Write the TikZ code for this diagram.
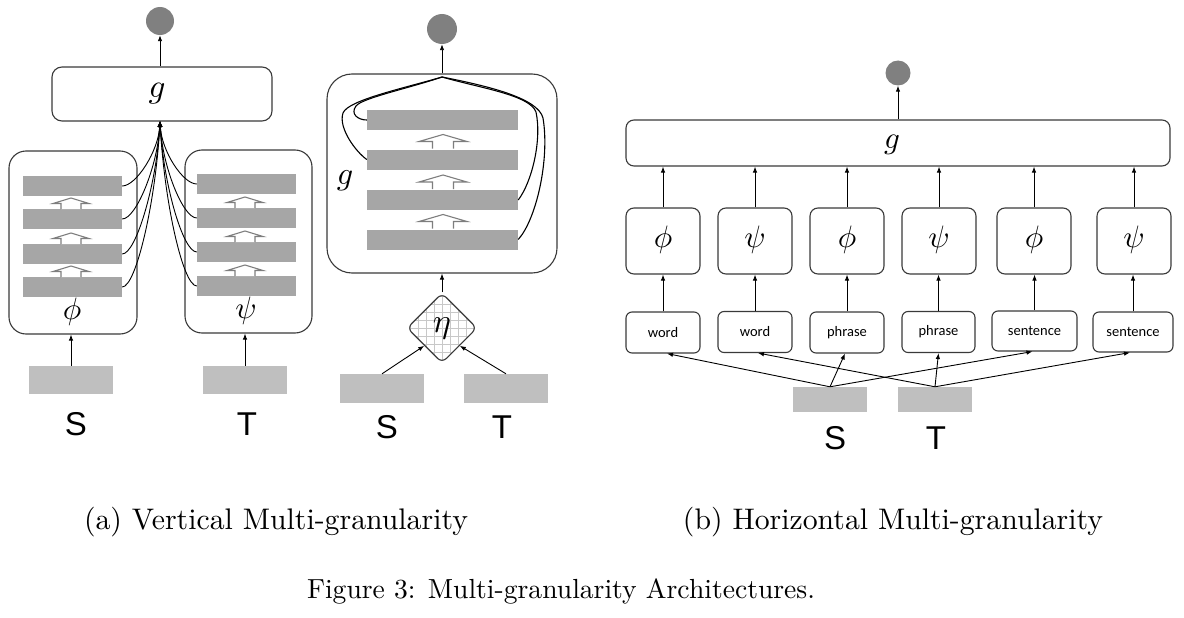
\documentclass[tikz,border=0pt]{standalone}
\usepackage{graphicx}
\usepackage{fontspec}
\newfontfamily\labelsans{Liberation Sans}
\newfontfamily\tagsans{Carlito}
\usetikzlibrary{arrows.meta,shapes.geometric}

\definecolor{bargray}{HTML}{A6A6A6}
\definecolor{ingray}{HTML}{BFBFBF}
\definecolor{dotgray}{HTML}{808080}
\definecolor{edgegray}{HTML}{3A3A3A}
\definecolor{hollowgray}{HTML}{7E7E7E}
\definecolor{hatchgray}{HTML}{C8C8C8}

% math symbol set at 10pt and scaled up
\newcommand{\bigsym}[2]{\scalebox{#1}{$#2$}}

% hollow block arrow: centre x, bottom y, head width, shaft width, height
\newcommand{\hollowup}[5]{%
  \draw[draw=hollowgray, fill=white, line width=1.1pt, line join=miter]
    ({#1-#4/2},#2) -- ({#1-#4/2},{#2-#5*0.5}) -- ({#1-#3/2},{#2-#5*0.5})
    -- (#1,{#2-#5}) -- ({#1+#3/2},{#2-#5*0.5}) -- ({#1+#4/2},{#2-#5*0.5})
    -- ({#1+#4/2},#2);}

\begin{document}
\begin{tikzpicture}[x=1pt,y=-1pt,
  >={Latex[length=6pt,width=4.5pt]},
  box/.style={draw=edgegray, line width=1.1pt, rounded corners=#1, fill=white, inner sep=0pt},
  box/.default=8pt,
  bar/.style={fill=bargray, draw=none, minimum width=#1, minimum height=20pt, inner sep=0pt},
  inrect/.style={fill=ingray, draw=none, inner sep=0pt},
  dot/.style={circle, fill=dotgray, draw=none, minimum size=#1, inner sep=0pt},
  conn/.style={->, line width=0.9pt, black},
  wire/.style={line width=1.1pt, black},
  sidelabel/.style={font=\labelsans\fontsize{33}{36}\selectfont},
  tag/.style={font=\tagsans\fontsize{14.5}{16}\selectfont},
  caption/.style={anchor=base, inner sep=0pt}
]
\useasboundingbox (0,0) rectangle (1184,618);

%% ---------------- (a) left: two stacks feeding g ----------------
\node[dot=28pt] (dotA) at (160,21) {};
\node[box=10pt, minimum width=220pt, minimum height=54pt] (gA) at (162,94) {};
\node at (157,94) {\bigsym{3.3}{g}};
\draw[conn] (gA.north -| dotA) -- (dotA);
\coordinate (conv) at (160,121);

\node[box=17pt, minimum width=128pt, minimum height=183pt] (phiA) at (73,242.5) {};
\node[box=17pt, minimum width=127pt, minimum height=183pt] (psiA) at (248.5,241.5) {};
\node at (72,312) {\bigsym{3.1}{\phi}};
\node at (246,311) {\bigsym{3.1}{\psi}};

\node[bar=99pt] (l1) at (72.5,186) {};
\node[bar=99pt] (l2) at (72.5,219) {};
\node[bar=99pt] (l3) at (72.5,254) {};
\node[bar=99pt] (l4) at (72.5,287) {};
\node[bar=99pt] (r1) at (246.5,184) {};
\node[bar=99pt] (r2) at (246.5,218) {};
\node[bar=99pt] (r3) at (246.5,252) {};
\node[bar=99pt] (r4) at (246.5,286) {};

\hollowup{71}{209}{36}{20}{11}
\hollowup{71}{244}{36}{20}{11}
\hollowup{71}{277}{36}{20}{11}
\hollowup{245}{208}{36}{20}{11}
\hollowup{245}{242}{36}{20}{11}
\hollowup{245}{276}{36}{20}{11}

\foreach \b/\d in {l1/30,l2/45,l3/62,l4/80}
  \draw[conn] (\b.east) to[out=0, in=-93, out distance=14pt, in distance=\d pt] (conv);
\foreach \b/\d in {r1/30,r2/45,r3/62,r4/80}
  \draw[conn] (\b.west) to[out=180, in=-87, out distance=14pt, in distance=\d pt] (conv);

\node[inrect, minimum width=84pt, minimum height=28pt] (sA) at (71,380) {};
\node[inrect, minimum width=84pt, minimum height=28pt] (tA) at (245,380) {};
\draw[conn] (sA.north) -- (sA.north |- phiA.south);
\draw[conn] (tA.north) -- (tA.north |- psiA.south);
\node[sidelabel] at (76,424) {S};
\node[sidelabel] at (247,424) {T};

%% ---------------- (a) right: joint encoder over eta ----------------
\node[dot=30pt] (dotB) at (442,29) {};
\node[box=25pt, minimum width=230pt, minimum height=199pt] (gB) at (442,173.5) {};
\draw[conn] (gB.north) -- (dotB);
\node at (345,181) {\bigsym{3.2}{g}};
\coordinate (gtop) at (442,77);

\node[bar=151pt] (m1) at (442.5,120) {};
\node[bar=151pt] (m2) at (442.5,159.5) {};
\node[bar=151pt] (m3) at (442.5,200) {};
\node[bar=151pt] (m4) at (442.5,239.5) {};
\hollowup{443}{148.5}{48}{21}{14}
\hollowup{443}{189}{48}{21}{14}
\hollowup{443}{228.5}{48}{21}{14}

\draw[wire] (gtop) .. controls (410,88) and (362,98) .. (356,106)
                   .. controls (350,114) and (358,120) .. (m1.west);
\draw[wire] (gtop) .. controls (405,88) and (348,100) .. (343,113)
                   .. controls (338,128) and (356,152) .. (m2.west);
\draw[wire] (gtop) .. controls (480,88) and (530,95) .. (536,112)
                   .. controls (542,140) and (532,182) .. (m3.east);
\draw[wire] (gtop) .. controls (488,86) and (538,98) .. (543,118)
                   .. controls (550,160) and (536,220) .. (m4.east);

\node[diamond, draw=edgegray, line width=1.1pt, rounded corners=6pt,
      minimum width=70pt, minimum height=70pt, inner sep=0pt, fill=white,
      path picture={\draw[hatchgray, line width=0.8pt]
        ([shift={(-40pt,-40pt)}]path picture bounding box.center) grid[step=8pt]
        ([shift={(40pt,40pt)}]path picture bounding box.center);}]
      (eta) at (442,328) {\bigsym{3.4}{\eta}};
\draw[conn] (eta.north) -- (gB.south);

\node[inrect, minimum width=84pt, minimum height=29pt] (sB) at (382,388.5) {};
\node[inrect, minimum width=84pt, minimum height=29pt] (tB) at (506,388.5) {};
\draw[conn] (sB.north) -- (eta.south west);
\draw[conn] (tB.north) -- (eta.south east);
\node[sidelabel] at (387,427) {S};
\node[sidelabel] at (502,427) {T};

%% ---------------- (b) horizontal multi-granularity ----------------
\node[dot=25pt] (dotC) at (898,73) {};
\node[box=8pt, minimum width=544pt, minimum height=46pt] (gC) at (898,143) {};
\node at (892,145) {\bigsym{3.1}{g}};
\draw[conn] (gC.north -| dotC) -- (dotC);

\foreach \n/\x/\sym in {f1/663/\phi, f2/755/\psi, f3/847/\phi, f4/939/\psi, f5/1034/\phi, f6/1134/\psi}{
  \node[box=8pt, minimum width=74pt, minimum height=66pt] (\n) at (\x,241) {};
  \node at (\x,240) {\bigsym{3.1}{\sym}};
  \draw[conn] (\n.north) -- (\n.north |- gC.south);
}

\node[box=6pt, tag, minimum width=74pt, minimum height=41pt] (w1) at (663,332.5) {word};
\node[box=6pt, tag, minimum width=74pt, minimum height=41pt] (w2) at (755,332) {word};
\node[box=6pt, tag, minimum width=74pt, minimum height=41pt] (p1) at (847,332.5) {phrase};
\node[box=6pt, tag, minimum width=73pt, minimum height=41pt] (p2) at (938.5,332) {phrase};
\node[box=6pt, tag, minimum width=85pt, minimum height=40pt] (s1) at (1034.5,331) {sentence};
\node[box=6pt, tag, minimum width=80pt, minimum height=40pt] (s2) at (1133,332) {sentence};
\foreach \lo/\hi in {w1/f1, w2/f2, p1/f3, p2/f4, s1/f5, s2/f6}
  \draw[conn] (\lo.north) -- (\lo.north |- \hi.south);

\node[inrect, minimum width=74pt, minimum height=25pt] (sC) at (830,399.5) {};
\node[inrect, minimum width=74pt, minimum height=25pt] (tC) at (935,399.5) {};
\draw[conn] (sC.north) -- ([xshift=4pt]w1.south);
\draw[conn] (sC.north) -- ([xshift=-2pt]p1.south);
\draw[conn] (sC.north) -- ([xshift=-2pt]s1.south);
\draw[conn] (tC.north) -- ([xshift=3pt]w2.south);
\draw[conn] (tC.north) -- (p2.south);
\draw[conn] (tC.north) -- ([xshift=-3pt]s2.south);
\node[sidelabel] at (835,438) {S};
\node[sidelabel] at (936,438) {T};

%% ---------------- captions ----------------
\node[caption] at (276,529) {\resizebox{384pt}{!}{(a) Vertical Multi-granularity}};
\node[caption] at (893,529) {\resizebox{420pt}{!}{(b) Horizontal Multi-granularity}};
\node[caption] at (561,598) {\resizebox{508pt}{!}{Figure 3: Multi-granularity Architectures.}};
\end{tikzpicture}
\end{document}
